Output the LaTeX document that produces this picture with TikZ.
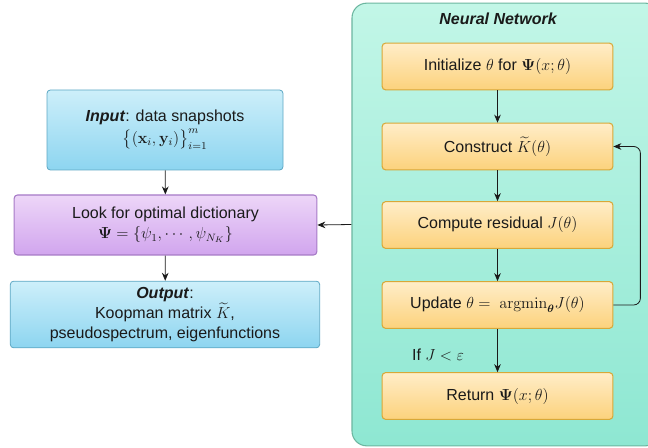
\documentclass[tikz,border=0pt]{standalone}
\usepackage{amsmath, amssymb}
\usepackage[no-math]{fontspec}
\setmainfont{Liberation Sans}
\usetikzlibrary{arrows.meta}

\definecolor{nnTop}{HTML}{C2F6E7}
\definecolor{nnBot}{HTML}{8EE7D2}
\definecolor{nnLine}{HTML}{6CB6A0}
\definecolor{orTop}{HTML}{FFEDC8}
\definecolor{orBot}{HTML}{FCD27C}
\definecolor{orLine}{HTML}{D8A838}
\definecolor{blTop}{HTML}{CDEFFA}
\definecolor{blBot}{HTML}{8DD5F0}
\definecolor{blLine}{HTML}{5EA8C4}
\definecolor{puTop}{HTML}{EDD6F8}
\definecolor{puBot}{HTML}{D1A5EE}
\definecolor{puLine}{HTML}{A67AC6}
\definecolor{ink}{HTML}{1A1A1A}

\begin{document}
\begin{tikzpicture}[x=0.75pt, y=-0.75pt, font=\fontsize{12}{15}\selectfont, text=ink,
	container/.style={rectangle, rounded corners=11pt, draw=nnLine, line width=0.8pt, top color=nnTop, bottom color=nnBot, minimum width=231pt, minimum height=332pt},
	stepbox/.style={rectangle, rounded corners=2.5pt, draw=orLine, line width=0.8pt, top color=orTop, bottom color=orBot, minimum width=173pt, minimum height=35pt, align=center},
	iobox/.style={rectangle, rounded corners=2.5pt, draw=blLine, line width=0.6pt, top color=blTop, bottom color=blBot, align=center},
	dictbox/.style={rectangle, rounded corners=2.5pt, draw=puLine, line width=0.8pt, top color=puTop, bottom color=puBot, align=center},
	arr/.style={draw=ink, line width=0.6pt, -{Stealth[length=6pt, width=5pt]}}]
	\useasboundingbox (0,0) rectangle (648,448);
	% Neural network part:
	\node[container] (nn) at (506, 224.5) {};
	\node[font=\fontsize{12}{15}\selectfont\bfseries\itshape] (title) at (498, 19) {Neural Network};
	\node[stepbox] (init) at (497.5, 66.5) {Initialize $\theta$ for $\mathbf{\Psi}(x;\theta)$};
	\node[stepbox] (construct) at (497.5, 146.5) {Construct $\widetilde{K}(\theta)$};
	\node[stepbox] (residual) at (497.5, 225) {Compute residual $J(\theta)$};
	\node[stepbox] (update) at (497.5, 305) {Update $\theta =\ \mathrm{argmin}_{\boldsymbol{\theta}} J(\theta)$};
	\node[stepbox] (return) at (497.5, 396) {Return $\mathbf{\Psi}(x;\theta)$};
	\node (cond) at (438, 355) {If {\large $J<\varepsilon$}};
	\draw[arr] (init) -- (construct);
	\draw[arr] (construct) -- (residual);
	\draw[arr] (residual) -- (update);
	\draw[arr] (update) -- (return);
	\draw[arr, rounded corners=5pt] (update.east) -- ++(27,0) |- (construct.east);
	% Left part:
	\node[iobox, minimum width=177pt, minimum height=60pt] (input) at (165, 130) {\textbf{\textit{Input}}: data snapshots\\[1pt] {\large $\big\{(\mathbf{x}_i,\mathbf{y}_i)\big\}_{i=1}^{m}$}};
	\node[dictbox, minimum width=227pt, minimum height=45pt] (dict) at (165.5, 225) {Look for optimal dictionary\\ {\large $\mathbf{\Psi}=\{\psi_1,\cdots,\psi_{N_K}\}$}};
	\node[iobox, minimum width=232pt, minimum height=50pt] (output) at (165, 314.5) {\textbf{\textit{Output}}:\\ Koopman matrix $\widetilde{K}$,\\ pseudospectrum, eigenfunctions};
	\draw[arr] (input) -- (dict);
	\draw[arr] (dict) -- (output);
	\draw[arr] (nn.west) -- (dict.east);
\end{tikzpicture}
\end{document}
